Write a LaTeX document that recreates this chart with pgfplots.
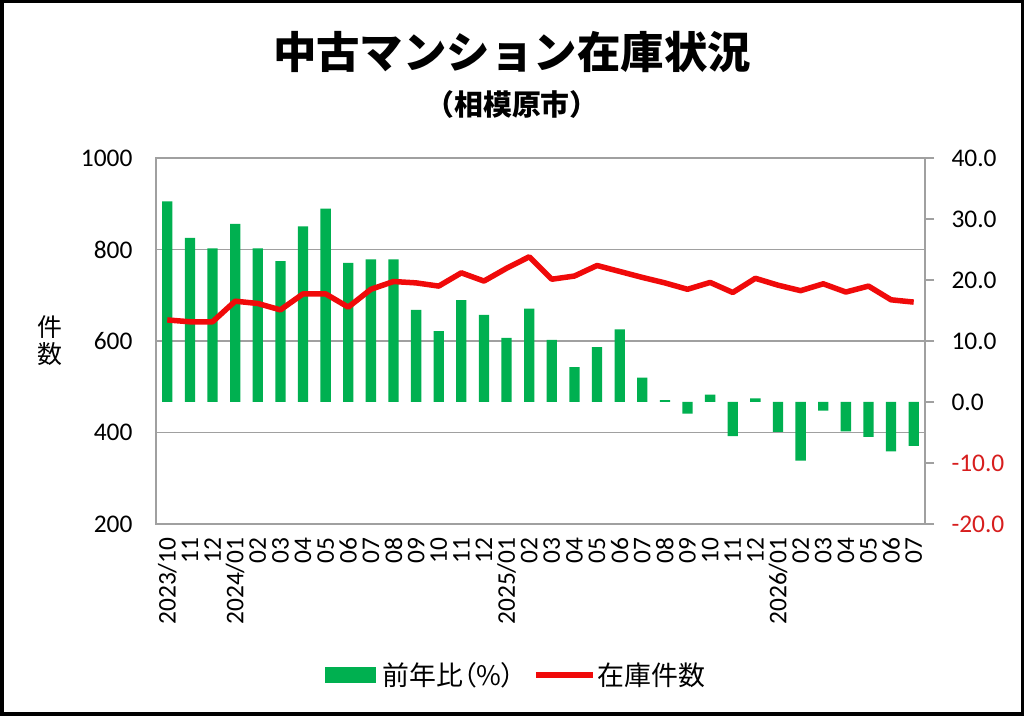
\documentclass[border=0pt]{standalone}
\usepackage{pgfplots}
\pgfplotsset{compat=1.18}
\usepackage{pgfplotstable}
\usepackage{fontspec}
\setmainfont{Carlito}
\newfontfamily\jp{Noto Sans CJK JP}
\newfontfamily\jpp{Noto Sans CJK JP}[RawFeature=+palt]
\definecolor{bargreen}{RGB}{0,176,80}
\definecolor{linered}{RGB}{240,10,10}
\definecolor{negred}{RGB}{215,30,30}
\definecolor{gridgray}{RGB}{160,160,160}
\pgfplotsset{/pgf/number format/assume math mode=true}

\pgfplotstableread{
x bar inv
0 32.9 646
1 26.9 642
2 25.2 642
3 29.2 687
4 25.2 682
5 23.1 668
6 28.8 703
7 31.7 703
8 22.8 674
9 23.4 713
10 23.4 730
11 15.1 727
12 11.6 720
13 16.7 749
14 14.3 731
15 10.5 759
16 15.3 784
17 10.2 735
18 5.7 742
19 9.0 765
20 11.9 752
21 4.0 739
22 0.3 727
23 -1.9 713
24 1.2 728
25 -5.6 706
26 0.6 737
27 -4.9 722
28 -9.6 710
29 -1.4 725
30 -4.8 707
31 -5.7 720
32 -8.1 690
33 -7.2 685
}\data

\begin{document}
\begin{tikzpicture}[x=1bp,y=1bp]
\useasboundingbox (0,0) rectangle (1024,716);
\fill[white] (0,0) rectangle (1024,716);
\draw[line width=3.5bp] (1.75,1.75) rectangle (1022.25,714.25);
\node[font=\jp\bfseries\fontsize{43.6}{50}\selectfont] at (512,664) {中古マンション在庫状況};
\node[font=\jp\bfseries\fontsize{29}{34}\selectfont] at (512,611) {（相模原市）};

% left axis: frame, grid, ticks
\begin{axis}[
  at={(156bp,192bp)}, anchor=south west, scale only axis,
  width=769bp, height=366bp,
  xmin=-0.5, xmax=33.5, ymin=200, ymax=1000,
  ytick={200,400,...,1000},
  xtick={0,...,33},
  xticklabels={2023/10,11,12,2024/01,02,03,04,05,06,07,08,09,10,11,12,2025/01,02,03,04,05,06,07,08,09,10,11,12,2026/01,02,03,04,05,06,07},
  major tick length=0pt,
  ymajorgrids, grid style={gridgray, line width=1.2bp},
  axis line style={gridgray, line width=1.2bp},
  tick label style={font=\fontsize{25.5}{30}\selectfont, text=black},
  xticklabel style={yshift=-10bp, rotate=90, anchor=east},
  yticklabel style={xshift=-20bp},
  /pgf/number format/1000 sep={},
  ylabel={件\\数},
  ylabel style={font=\jp\fontsize{25}{27}\selectfont, align=center, rotate=-90,
    at={(axis description cs:-0.138,0.5)}, anchor=center},
]
\end{axis}

% right axis: bars
\begin{axis}[
  at={(156bp,192bp)}, anchor=south west, scale only axis,
  width=769bp, height=366bp,
  xmin=-0.5, xmax=33.5, ymin=-20, ymax=40,
  axis y line*=right, axis x line=none, xtick=\empty,
  ytick={-20,-10,...,40},
  tick align=outside, major tick length=9bp,
  tick style={gridgray, line width=1.2bp},
  axis line style={gridgray, line width=1.2bp},
  tick label style={font=\fontsize{25.5}{30}\selectfont},
  yticklabel style={xshift=14bp},
  yticklabel={\pgfmathtruncatemacro\isneg{\tick<0}\ifnum\isneg=1 \textcolor{negred}{\pgfmathprintnumber[fixed,fixed zerofill,precision=1]{\tick}}\else\pgfmathprintnumber[fixed,fixed zerofill,precision=1]{\tick}\fi},
]
\addplot[ybar, bar width=10.3bp, fill=bargreen, draw=none] table[x=x,y=bar]{\data};
\end{axis}

% line on left scale, legend
\begin{axis}[
  at={(156bp,192bp)}, anchor=south west, scale only axis,
  width=769bp, height=366bp,
  xmin=-0.5, xmax=33.5, ymin=200, ymax=1000,
  hide axis, clip=false,
  legend style={at={(0.468,-0.4126)}, anchor=center, draw=none, fill=none,
    font=\jpp\fontsize{27}{32}\selectfont, legend columns=2,
    /tikz/every even column/.append style={column sep=16bp}},
]
\addlegendimage{legend image code/.code={\fill[bargreen, draw=none] (0bp,-8bp) rectangle (51bp,8bp); \path[draw=none, fill=none] (0bp,0bp) rectangle (56bp,0.1bp);}}
\addlegendentry{前年比（\%）}
\addplot[linered, line width=5.5bp, line join=round, no marks,
  legend image code/.code={\draw[linered, line width=5.5bp] (0bp,0bp) -- (57bp,0bp);}]
  table[x=x,y=inv]{\data};
\addlegendentry{在庫件数}
\end{axis}
\end{tikzpicture}
\end{document}
